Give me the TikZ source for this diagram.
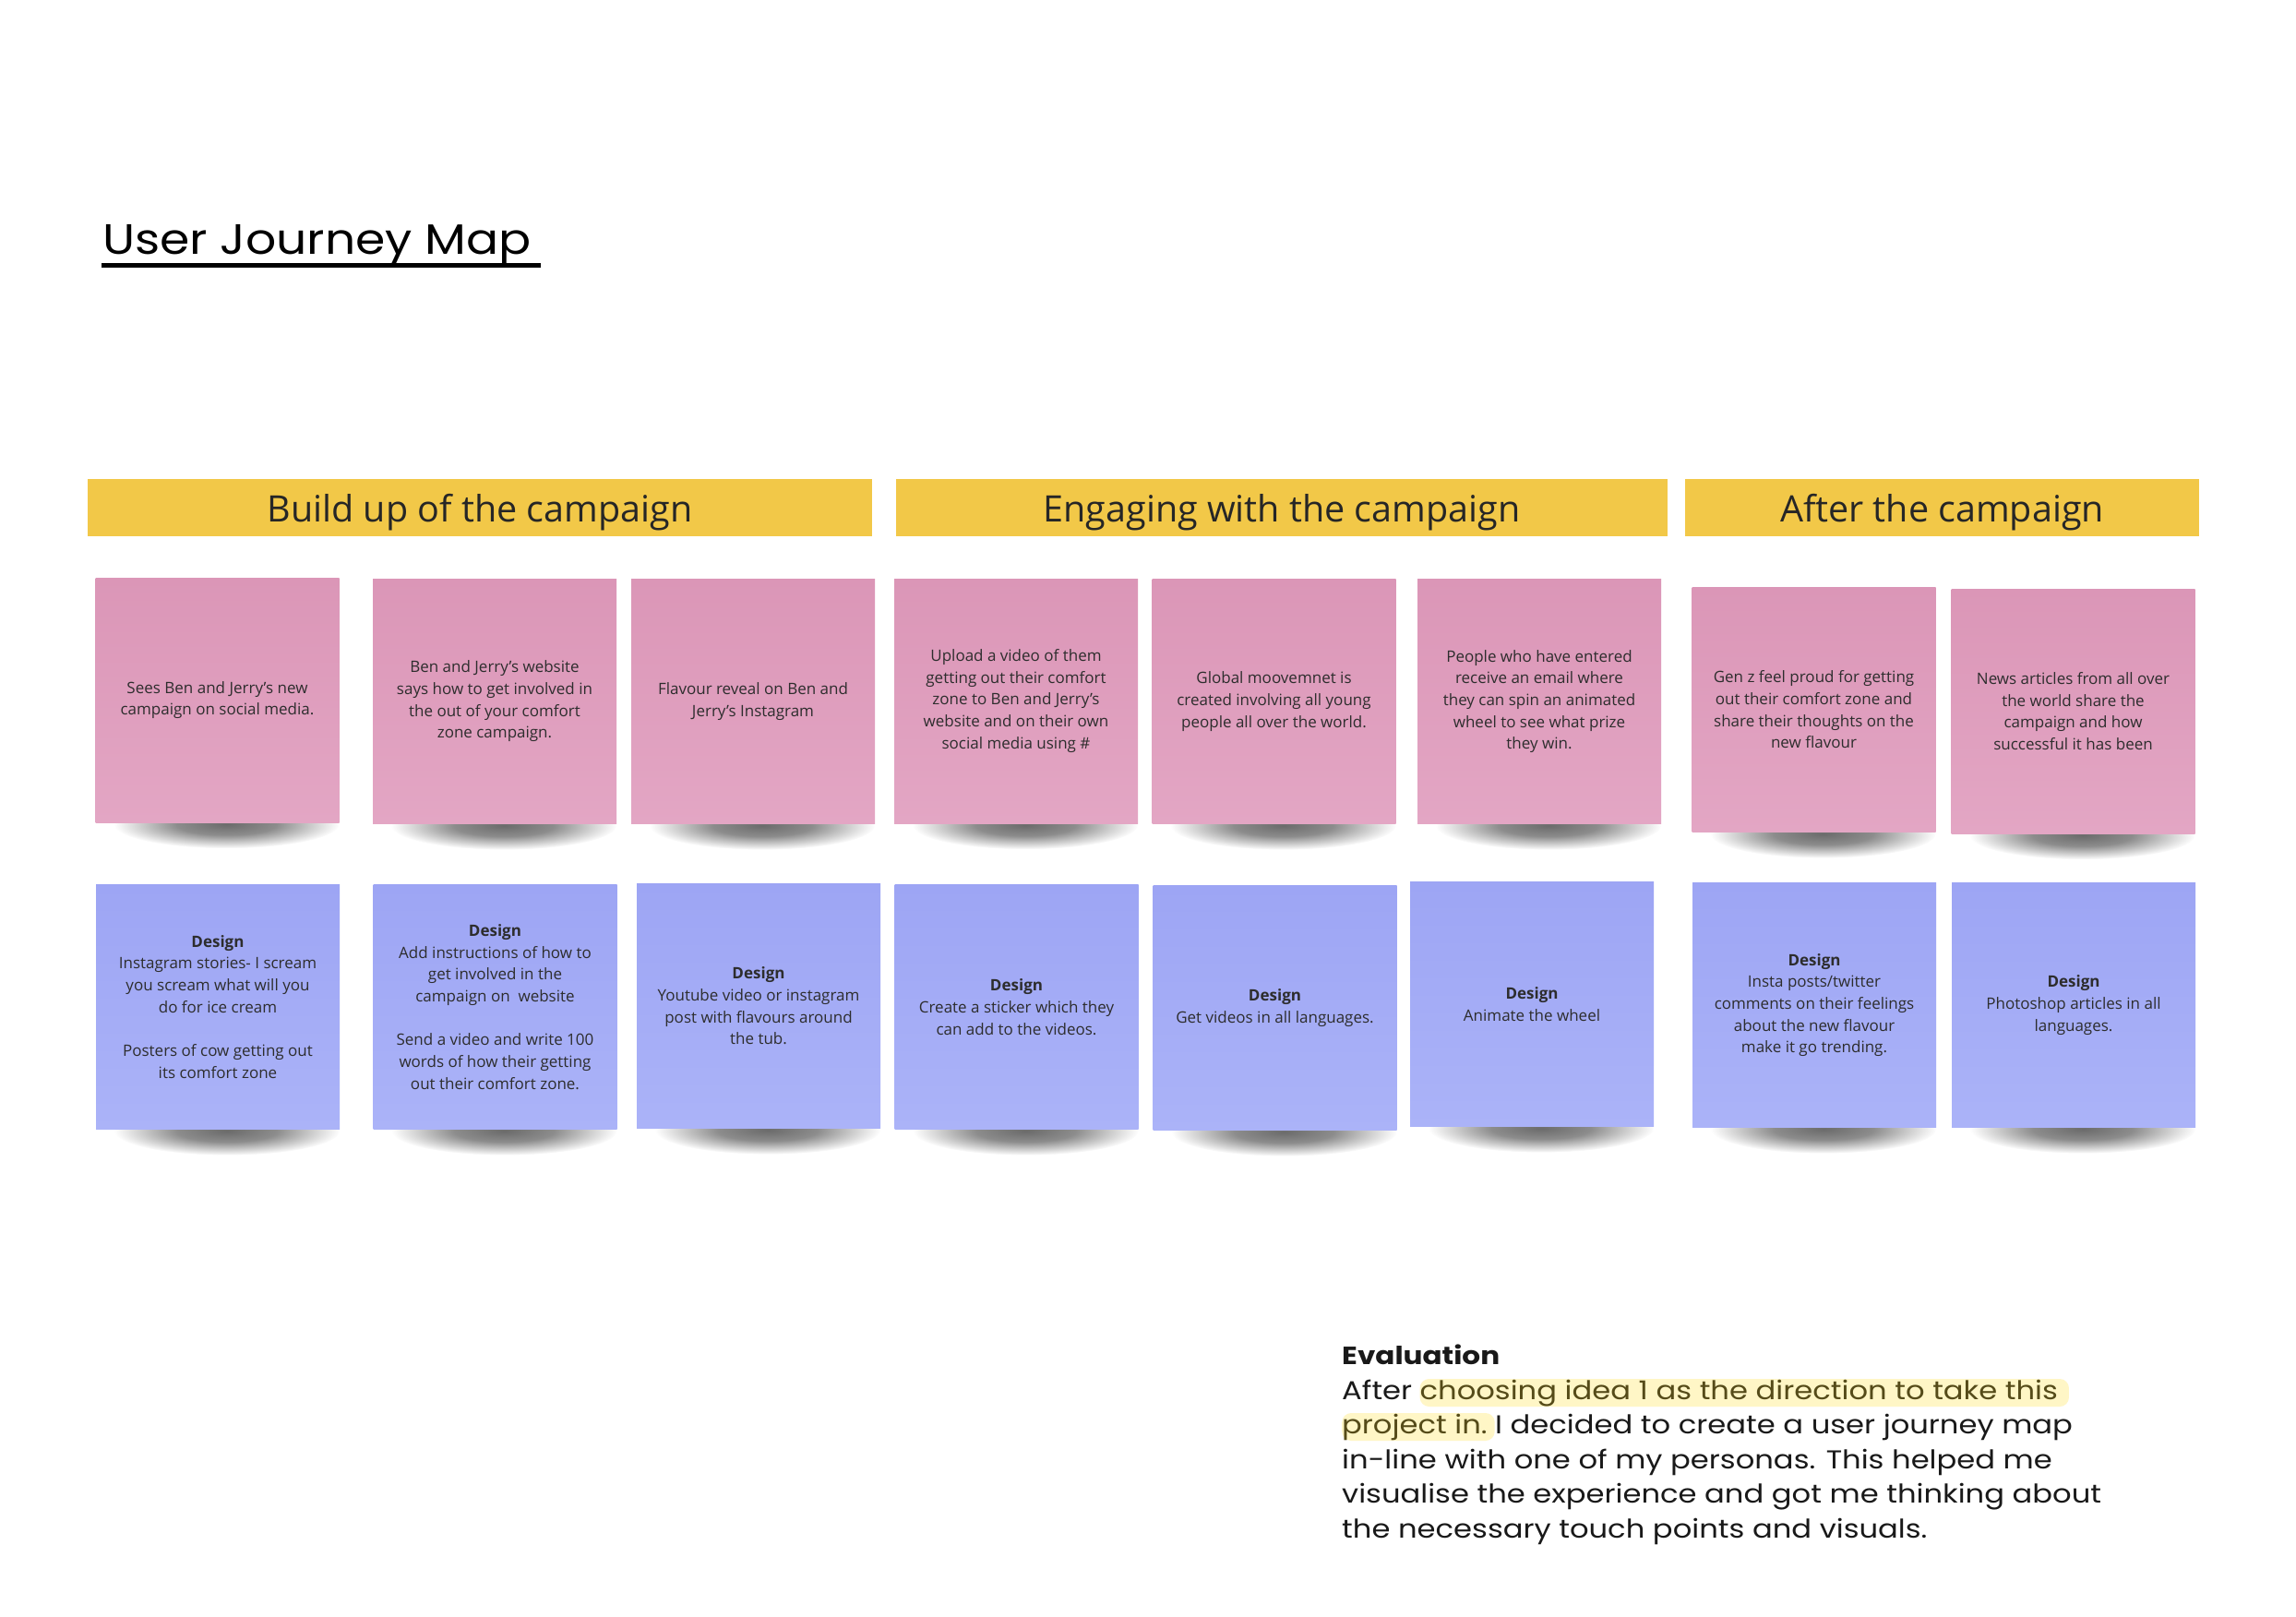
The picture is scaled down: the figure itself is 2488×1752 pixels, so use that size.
\documentclass[tikz,border=0pt]{standalone}
\usepackage{fontspec}
\setmainfont{Open Sans}
\newfontfamily\titlefont{Poppins}[FakeStretch=1.13]
\newfontfamily\evalfont{Poppins}[FakeStretch=1.15]
\usepackage{xcolor}
\usetikzlibrary{fadings}

\definecolor{pinktop}{RGB}{219,150,183}
\definecolor{pinkbottom}{RGB}{227,166,196}
\definecolor{bluetop}{RGB}{157,165,244}
\definecolor{bluebottom}{RGB}{171,179,248}
\definecolor{headeryellow}{RGB}{242,200,72}
\definecolor{notetext}{RGB}{45,45,45}
\definecolor{markyellow}{RGB}{255,246,198}
\definecolor{marktext}{RGB}{85,75,25}

\pgfdeclareradialshading{shadowshading}{\pgfpointorigin}{color(0bp)=(pgftransparent!42); color(11bp)=(pgftransparent!55); color(25bp)=(pgftransparent!100); color(50bp)=(pgftransparent!100)}
\pgfdeclarefading{shadowfade}{\pgfuseshading{shadowshading}}
\pgfdeclarelayer{background}
\pgfsetlayers{background,main}

\begin{document}
\begin{tikzpicture}[
            x=1pt, y=-1pt,
            header/.style={
                rectangle,
                fill=headeryellow,
                minimum height=62pt,
                inner sep=0pt,
                text depth=0pt,
                text=black!85,
                font=\fontsize{39.5}{46}\selectfont
            },
            note/.style={
                rectangle,
                minimum width=264pt,
                minimum height=265pt,
                inner sep=0pt,
                align=center,
                text=notetext,
                font=\fontsize{17}{23.7}\selectfont
            },
            pinknote/.style={note, top color=pinktop, bottom color=pinkbottom},
            bluenote/.style={note, top color=bluetop, bottom color=bluebottom},
            evaltext/.style={
                anchor=base west,
                inner sep=0pt,
                text=black!90,
                font=\evalfont\fontsize{28}{37}\selectfont
            },
            marker/.style={
                evaltext,
                fill=markyellow,
                text=marktext,
                rounded corners=10pt,
                text height=20pt,
                text depth=6pt,
                inner ysep=2pt
            }
        ]
            \useasboundingbox (0,0) rectangle (2488,1752);

            % --- TITLE ---
            \node [anchor=base west, inner sep=0pt, font=\titlefont\fontsize{46}{52}\selectfont] (title) at (111,276) {User Journey Map};
            \draw [line width=5pt] ([xshift=-1pt, yshift=-12pt]title.base west) -- ([xshift=10pt, yshift=-12pt]title.base east);

            % --- HEADERS ---
            \node [header, minimum width=850pt] (build) at (520,550) {Build up of the campaign};
            \node [header, minimum width=836pt] (engage) at (1389,550) {Engaging with the campaign};
            \node [header, minimum width=557pt] (after) at (2104.5,550) {After the campaign};

            % --- TOUCH POINTS ---
            \node [pinknote] (p1) at (235.5,758.5) {Sees Ben and Jerry's new\\campaign on social media.};
            \node [pinknote] (p2) at (536,760) {Ben and Jerry's website\\says how to get involved in\\the out of your comfort\\zone campaign.};
            \node [pinknote] (p3) at (816,760) {Flavour reveal on Ben and\\Jerry's Instagram};
            \node [pinknote] (p4) at (1101,759.5) {Upload a video of them\\getting out their comfort\\zone to Ben and Jerry's\\website and on their own\\social media using \#};
            \node [pinknote] (p5) at (1380.5,760) {Global moovemnet is\\created involving all young\\people all over the world.};
            \node [pinknote] (p6) at (1668,760) {People who have entered\\receive an email where\\they can spin an animated\\wheel to see what prize\\they win.};
            \node [pinknote] (p7) at (1965.5,769) {Gen z feel proud for getting\\out their comfort zone and\\share their thoughts on the\\new flavour};
            \node [pinknote] (p8) at (2246.5,770.5) {News articles from all over\\the world share the\\campaign and how\\successful it has been};

            % --- DESIGN NOTES ---
            \node [bluenote] (b1) at (236,1091) {\textbf{Design}\\Instagram stories- I scream\\you scream what will you\\do for ice cream\\[23.7pt]Posters of cow getting out\\its comfort zone};
            \node [bluenote] (b2) at (536.5,1091) {\textbf{Design}\\Add instructions of how to\\get involved in the\\campaign on\ \ website\\[23.7pt]Send a video and write 100\\words of how their getting\\out their comfort zone.};
            \node [bluenote] (b3) at (822,1090) {\textbf{Design}\\Youtube video or instagram\\post with flavours around\\the tub.};
            \node [bluenote] (b4) at (1101.5,1091) {\textbf{Design}\\Create a sticker which they\\can add to the videos.};
            \node [bluenote] (b5) at (1381.5,1092) {\textbf{Design}\\Get videos in all languages.};
            \node [bluenote] (b6) at (1660,1088) {\textbf{Design}\\Animate the wheel};
            \node [bluenote] (b7) at (1966,1089) {\textbf{Design}\\Insta posts/twitter\\comments on their feelings\\about the new flavour\\make it go trending.};
            \node [bluenote] (b8) at (2247,1089) {\textbf{Design}\\Photoshop articles in all\\languages.};

            % --- SHADOWS ---
            \begin{pgfonlayer}{background}
                \fill [white] (0,0) rectangle (2488,1752);
                \foreach \n in {p1,p2,p3,p4,p5,p6,p7,p8,b1,b2,b3,b4,b5,b6,b7,b8}
                    \fill [black, path fading=shadowfade] ([xshift=10pt, yshift=-2pt]\n.south) ellipse [x radius=122pt, y radius=26pt];
            \end{pgfonlayer}

            % --- EVALUATION ---
            \node [evaltext, font=\evalfont\bfseries\fontsize{27}{37}\selectfont] (evalhead) at (1454,1478) {Evaluation};
            \node [evaltext] (eval1a) at (1454,1516) {After\hspace{8pt}\mbox{}};
            \node [marker] (eval1b) at (eval1a.base east) {choosing idea 1 as the direction to take this\hspace{12pt}\mbox{}};
            \node [marker] (eval2a) at (1454,1553) {project in.\hspace{8pt}\mbox{}};
            \node [evaltext] (eval2b) at (eval2a.base east) {I decided to create a user journey map};
            \node [evaltext] (eval3) at (1454,1591) {in-line with one of my personas. This helped me};
            \node [evaltext] (eval4) at (1454,1628) {visualise the experience and got me thinking about};
            \node [evaltext] (eval5) at (1454,1666) {the necessary touch points and visuals.};
        \end{tikzpicture}
\end{document}
